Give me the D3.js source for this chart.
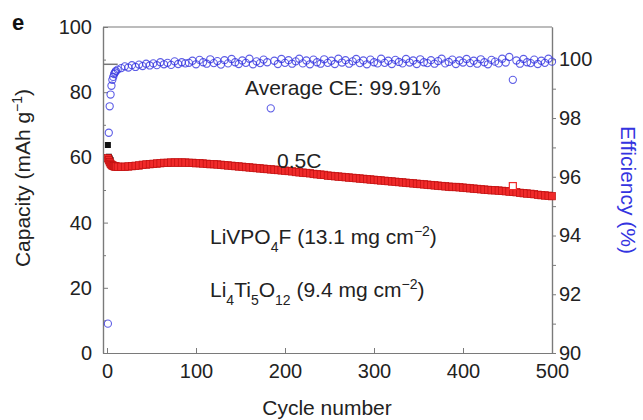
<!DOCTYPE html>
<html>
<head>
<meta charset="utf-8">
<script src="https://cdn.jsdelivr.net/npm/d3@7"></script>
<style>
  body { margin: 0; background: #fff; }
  text { font-family: "Liberation Sans", Arial, Helvetica, sans-serif; }
</style>
</head>
<body>
<div id="chart"></div>
<script>
// cycle numbers
var cycles = [1, 2, 3, 4, 5, 6, 7, 8, 9, 10].concat(d3.range(12, 501, 4));

// discharge capacity (mAh g-1), red squares
var capacity = [
  59.8, 59.2, 58.6, 58.1, 57.8, 57.6, 57.5, 57.4, 57.3, 57.3,
  57.2, 57.2, 57.2, 57.3, 57.4, 57.5, 57.6, 57.8, 57.9, 58.0,
  58.1, 58.2, 58.3, 58.4, 58.4, 58.5, 58.5, 58.5, 58.5, 58.5,
  58.4, 58.4, 58.3, 58.3, 58.2, 58.1, 58.0, 58.0, 57.9, 57.8,
  57.7, 57.6, 57.5, 57.4, 57.3, 57.2, 57.1, 57.0, 56.9, 56.8,
  56.7, 56.6, 56.5, 56.4, 56.3, 56.2, 56.1, 56.0, 55.9, 55.8,
  55.6, 55.5, 55.4, 55.3, 55.2, 55.0, 54.9, 54.8, 54.7, 54.5,
  54.4, 54.3, 54.2, 54.1, 54.0, 53.9, 53.8, 53.7, 53.6, 53.5,
  53.4, 53.3, 53.2, 53.1, 53.0, 52.9, 52.8, 52.7, 52.6, 52.5,
  52.4, 52.3, 52.2, 52.1, 52.0, 51.9, 51.8, 51.7, 51.6, 51.5,
  51.4, 51.3, 51.2, 51.1, 51.0, 51.0, 50.9, 50.8, 50.7, 50.6,
  50.5, 50.4, 50.3, 50.2, 50.1, 50.0, 50.0, 49.9, 49.8, 49.7,
  49.6, 49.5, 49.4, 49.2, 49.1, 49.0, 48.9, 48.8, 48.6, 48.5,
  48.4, 48.3, 48.2
];

// coulombic efficiency (%), blue circles
var efficiency = [
  91.0, 97.5, 98.4, 98.8, 99.1, 99.3, 99.4, 99.5, 99.55, 99.6,
  99.65, 99.7, 99.76, 99.72, 99.8, 99.74, 99.82, 99.77, 99.85, 99.79,
  99.86, 99.8, 99.9, 99.83, 99.88, 99.81, 99.93, 99.84, 99.9, 99.86,
  99.88, 99.95, 99.83, 99.98, 99.9, 99.85, 100.0, 99.87, 99.94, 99.82,
  99.97, 99.86, 100.01, 99.9, 99.84, 99.96, 99.88, 100.02, 99.83, 99.93,
  99.87, 99.99, 99.9, 98.33, 99.95, 99.84, 100.01, 99.88, 99.97, 99.85,
  99.93, 100.02, 99.86, 99.96, 99.83, 99.99, 99.9, 99.85, 100.0, 99.88,
  99.95, 99.84, 100.02, 99.89, 99.97, 99.85, 99.93, 100.01, 99.87, 99.96,
  99.83, 99.99, 99.9, 99.86, 100.02, 99.88, 99.95, 99.84, 99.98, 99.91,
  99.86, 100.01, 99.89, 99.96, 99.84, 100.0, 99.9, 99.87, 99.97, 99.85,
  99.94, 100.02, 99.86, 99.91, 99.99, 99.84, 99.96, 99.89, 100.01, 99.87,
  99.95, 99.85, 100.0, 99.9, 99.83, 99.98, 99.92, 99.86, 100.02, 99.89,
  100.08, 99.3, 99.96, 99.85, 100.01, 99.9, 99.87, 99.99, 99.84, 99.95,
  99.88, 100.02, 99.92
];

// first cycles charge capacity (black squares)
var chargeCycles = [1, 2, 3, 4];
var chargeCapacity = [63.8, 60.2, 59.7, 59.2];

// stray discharge point drawn open
var outlierCycles = [456];
var outlierCapacity = [51.2];

// short grey reference line at the start
var refCycles = [-4.5, 12];
var refEfficiency = 99.83;

var xTicks = [0, 100, 200, 300, 400, 500];
var capTicks = [0, 20, 40, 60, 80, 100];
var capMinor = [10, 30, 50, 70, 90];
var effTicks = [90, 92, 94, 96, 98, 100];
var effMinor = [91, 93, 95, 97, 99];

var width = 643, height = 420;
var plotL = 103, plotR = 552, plotT = 27, plotB = 353;
var axisColor = "#7a7a7a", blue = "#3434e0", red = "#f02a2a";

var svg = d3.select("#chart")
  .append("svg")
    .attr("width", width)
    .attr("height", height);

var x = d3.scaleLinear().domain([-4.5, 500]).range([plotL, plotR]);
var y = d3.scaleLinear().domain([0, 100]).range([plotB, plotT]);
var yE = d3.scaleLinear().domain([90, 101.1]).range([plotB, plotT]);

function styleAxis(g) {
  g.select(".domain").attr("stroke", axisColor).attr("stroke-width", 1.2);
  g.selectAll(".tick line").attr("stroke", axisColor).attr("stroke-width", 1);
  g.selectAll(".tick text").attr("fill", "#222").style("font-size", "20px")
    .style("font-family", "'Liberation Sans', Arial, sans-serif");
}

// top frame
svg.append("line")
  .attr("x1", plotL).attr("x2", plotR)
  .attr("y1", plotT).attr("y2", plotT)
  .attr("stroke", axisColor).attr("stroke-width", 1.2);

// bottom axis
svg.append("g")
  .attr("transform", "translate(0," + plotB + ")")
  .call(d3.axisBottom(x).tickValues(xTicks).tickSize(-5).tickSizeOuter(0).tickPadding(11))
  .call(styleAxis);

// left axis
svg.append("g")
  .attr("transform", "translate(" + plotL + ",0)")
  .call(d3.axisLeft(y).tickValues(capTicks).tickSize(-5).tickSizeOuter(0).tickPadding(11))
  .call(styleAxis);
svg.append("g")
  .attr("transform", "translate(" + plotL + ",0)")
  .call(d3.axisLeft(y).tickValues(capMinor).tickSize(-3).tickSizeOuter(0).tickFormat(""))
  .call(styleAxis);

// right axis
svg.append("g")
  .attr("transform", "translate(" + plotR + ",0)")
  .call(d3.axisRight(yE).tickValues(effTicks).tickSize(4).tickSizeOuter(0).tickPadding(3))
  .call(styleAxis);
svg.append("g")
  .attr("transform", "translate(" + plotR + ",0)")
  .call(d3.axisRight(yE).tickValues(effMinor).tickSize(4).tickSizeOuter(0).tickFormat(""))
  .call(styleAxis);

// grey reference segment
svg.append("line")
  .attr("x1", x(refCycles[0])).attr("x2", x(refCycles[1]))
  .attr("y1", yE(refEfficiency)).attr("y2", yE(refEfficiency))
  .attr("stroke", "#777").attr("stroke-width", 1.5);

// charge (black)
svg.append("g")
  .selectAll("rect")
  .data(chargeCycles)
  .enter().append("rect")
    .attr("x", function(d) { return x(d) - 3; })
    .attr("y", function(d, i) { return y(chargeCapacity[i]) - 3; })
    .attr("width", 6).attr("height", 6)
    .attr("fill", "#111");

// discharge capacity (red)
svg.append("g")
  .selectAll("rect")
  .data(cycles)
  .enter().append("rect")
    .attr("x", function(d) { return x(d) - 3.5; })
    .attr("y", function(d, i) { return y(capacity[i]) - 3.5; })
    .attr("width", 7).attr("height", 7.5)
    .attr("fill", red)
    .attr("stroke", "#c01010")
    .attr("stroke-width", 0.7);

svg.append("g")
  .selectAll("rect")
  .data(outlierCycles)
  .enter().append("rect")
    .attr("x", function(d) { return x(d) - 3.5; })
    .attr("y", function(d, i) { return y(outlierCapacity[i]) - 3.5; })
    .attr("width", 7).attr("height", 7)
    .attr("fill", "#fff")
    .attr("stroke", red)
    .attr("stroke-width", 1.2);

// efficiency (blue)
svg.append("g")
  .selectAll("circle")
  .data(cycles)
  .enter().append("circle")
    .attr("cx", function(d) { return x(d); })
    .attr("cy", function(d, i) { return yE(efficiency[i]); })
    .attr("r", 3.6)
    .attr("fill", "none")
    .attr("stroke", blue)
    .attr("stroke-opacity", 0.8)
    .attr("stroke-width", 1.1);

// annotations
var ann = svg.append("g").attr("fill", "#222").style("font-size", "21px");

ann.append("text").attr("x", 245).attr("y", 95).text("Average CE: 99.91%");
ann.append("text").attr("x", 277).attr("y", 168).text("0.5C");

var t1 = ann.append("text").attr("x", 210).attr("y", 244);
t1.append("tspan").text("LiVPO");
t1.append("tspan").attr("baseline-shift", "sub").style("font-size", "14px").text("4");
t1.append("tspan").text("F (13.1 mg cm");
t1.append("tspan").attr("baseline-shift", "super").style("font-size", "14px").text("\u22122");
t1.append("tspan").text(")");

var t2 = ann.append("text").attr("x", 210).attr("y", 297);
t2.append("tspan").text("Li");
t2.append("tspan").attr("baseline-shift", "sub").style("font-size", "14px").text("4");
t2.append("tspan").text("Ti");
t2.append("tspan").attr("baseline-shift", "sub").style("font-size", "14px").text("5");
t2.append("tspan").text("O");
t2.append("tspan").attr("baseline-shift", "sub").style("font-size", "14px").text("12");
t2.append("tspan").text(" (9.4 mg cm");
t2.append("tspan").attr("baseline-shift", "super").style("font-size", "14px").text("\u22122");
t2.append("tspan").text(")");

// panel letter
svg.append("text")
  .attr("x", 12).attr("y", 30)
  .style("font-size", "22px").style("font-weight", "bold")
  .attr("fill", "#111")
  .text("e");

// axis titles
svg.append("text")
  .attr("x", 327).attr("y", 415)
  .attr("text-anchor", "middle")
  .style("font-size", "21px").attr("fill", "#222")
  .text("Cycle number");

var yl = svg.append("text")
  .attr("transform", "translate(30,178) rotate(-90)")
  .attr("text-anchor", "middle")
  .style("font-size", "21px").attr("fill", "#222");
yl.append("tspan").text("Capacity (mAh g");
yl.append("tspan").attr("baseline-shift", "super").style("font-size", "14px").text("\u22121");
yl.append("tspan").text(")");

svg.append("text")
  .attr("transform", "translate(621,190) rotate(90)")
  .attr("text-anchor", "middle")
  .style("font-size", "21px").attr("fill", blue)
  .text("Efficiency (%)");
</script>
</body>
</html>
